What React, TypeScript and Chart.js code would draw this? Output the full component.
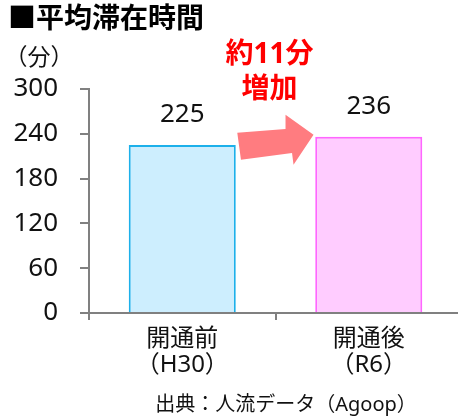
import React, { useEffect, useRef } from "react";
import { Chart, registerables } from "chart.js";

Chart.register(...registerables);

const categories = [["開通前", "（H30）"], ["開通後", "（R6）"]];
const values = [225, 236];
const yTicks = [0, 60, 120, 180, 240, 300];
const titleText = "■平均滞在時間";
const unitLabel = "（分）";
const calloutLines = ["約11分", "増加"];
const sourceNote = "出典：人流データ（Agoop）";
const fillColors = ["#cdeefe", "#ffccff"];
const borderColors = ["#1cb0ea", "#ff66ff"];

const LATIN = "'Noto Sans', 'Noto Sans CJK JP', sans-serif";
const CJK = "'Noto Sans CJK JP', 'Noto Sans', sans-serif";

const annotations = {
  id: "annotations",
  afterDatasetsDraw(chart: any) {
    const ctx = chart.ctx as CanvasRenderingContext2D;
    const meta = chart.getDatasetMeta(0);
    const b1 = meta.data[0] as any;
    const b2 = meta.data[1] as any;
    ctx.save();

    // value labels
    ctx.fillStyle = "#111";
    ctx.font = `26px ${LATIN}`;
    ctx.textAlign = "center";
    ctx.textBaseline = "middle";
    meta.data.forEach((bar: any, i: number) => {
      ctx.fillText(String(values[i]), bar.x, bar.y - 30);
    });

    // arrow between bars
    const L = b1.x + b1.width / 2 + 1.5;
    const R = b2.x - b2.width / 2 - 1.7;
    const ty = b2.y - 2;
    ctx.fillStyle = "#ff7c80";
    ctx.beginPath();
    ctx.moveTo(L, ty - 2);
    ctx.lineTo(R - 28, ty - 5.7);
    ctx.lineTo(R - 28, ty - 20);
    ctx.lineTo(R, ty);
    ctx.lineTo(R - 20, ty + 30);
    ctx.lineTo(R - 21.5, ty + 18.3);
    ctx.lineTo(L + 3.7, ty + 25);
    ctx.closePath();
    ctx.fill();

    // callout text
    const cx = (L + R) / 2 - 6;
    ctx.fillStyle = "#ff0000";
    ctx.font = `bold 28px ${LATIN}`;
    ctx.fillText(calloutLines[0], cx, 55);
    ctx.fillText(calloutLines[1], cx, 90);

    // title
    ctx.fillStyle = "#000";
    ctx.textAlign = "left";
    ctx.font = `bold 28px ${CJK}`;
    ctx.fillText(titleText, 8, 17);

    // unit
    ctx.fillStyle = "#111";
    ctx.textAlign = "center";
    ctx.font = `23px ${CJK}`;
    ctx.fillText(unitLabel, 39, 56);

    // source
    ctx.font = `20px ${LATIN}`;
    ctx.fillText(sourceNote, 286, 405);

    ctx.restore();
  },
};

export default function App() {
  const ref = useRef<HTMLCanvasElement | null>(null);
  useEffect(() => {
    if (!ref.current) return;
    const chart = new Chart(ref.current, {
      type: "bar",
      data: {
        labels: categories as any,
        datasets: [
          {
            data: values,
            backgroundColor: fillColors,
            borderColor: borderColors,
            borderWidth: 2,
            barPercentage: 0.574,
            categoryPercentage: 1,
          },
        ],
      },
      options: {
        responsive: false,
        animation: false,
        layout: { padding: { top: 89, left: 0, right: 0, bottom: 0 } },
        plugins: {
          legend: { display: false },
          tooltip: { enabled: false },
          title: { display: false },
        },
        scales: {
          x: {
            grid: {
              drawOnChartArea: false,
              drawTicks: true,
              tickLength: 7,
              color: "#808080",
              lineWidth: 2,
              offset: true,
            },
            border: { display: true, color: "#808080", width: 2 },
            ticks: {
              color: "#111",
              font: { family: LATIN, size: 24, lineHeight: 1.09 },
              padding: 6,
              maxRotation: 0,
              autoSkip: false,
            },
            afterFit: (s: any) => {
              s.height = 105;
            },
          },
          y: {
            min: 0,
            max: 300,
            afterBuildTicks: (s: any) => {
              s.ticks = yTicks.map((v) => ({ value: v }));
            },
            grid: {
              drawOnChartArea: false,
              drawTicks: true,
              tickLength: 9,
              color: "#808080",
              lineWidth: 2,
            },
            border: { display: true, color: "#808080", width: 2 },
            ticks: {
              color: "#111",
              font: { family: LATIN, size: 26 },
              padding: 22,
            },
            afterFit: (s: any) => {
              s.width = 89;
            },
          },
        },
      },
      plugins: [annotations],
    });
    return () => chart.destroy();
  }, []);

  return (
    <div
      style={{
        position: "fixed",
        left: 0,
        top: 0,
        width: 458,
        height: 418,
        overflow: "hidden",
        background: "#fff",
      }}
    >
      <canvas ref={ref} width={462} height={418} style={{ display: "block" }} />
    </div>
  );
}
